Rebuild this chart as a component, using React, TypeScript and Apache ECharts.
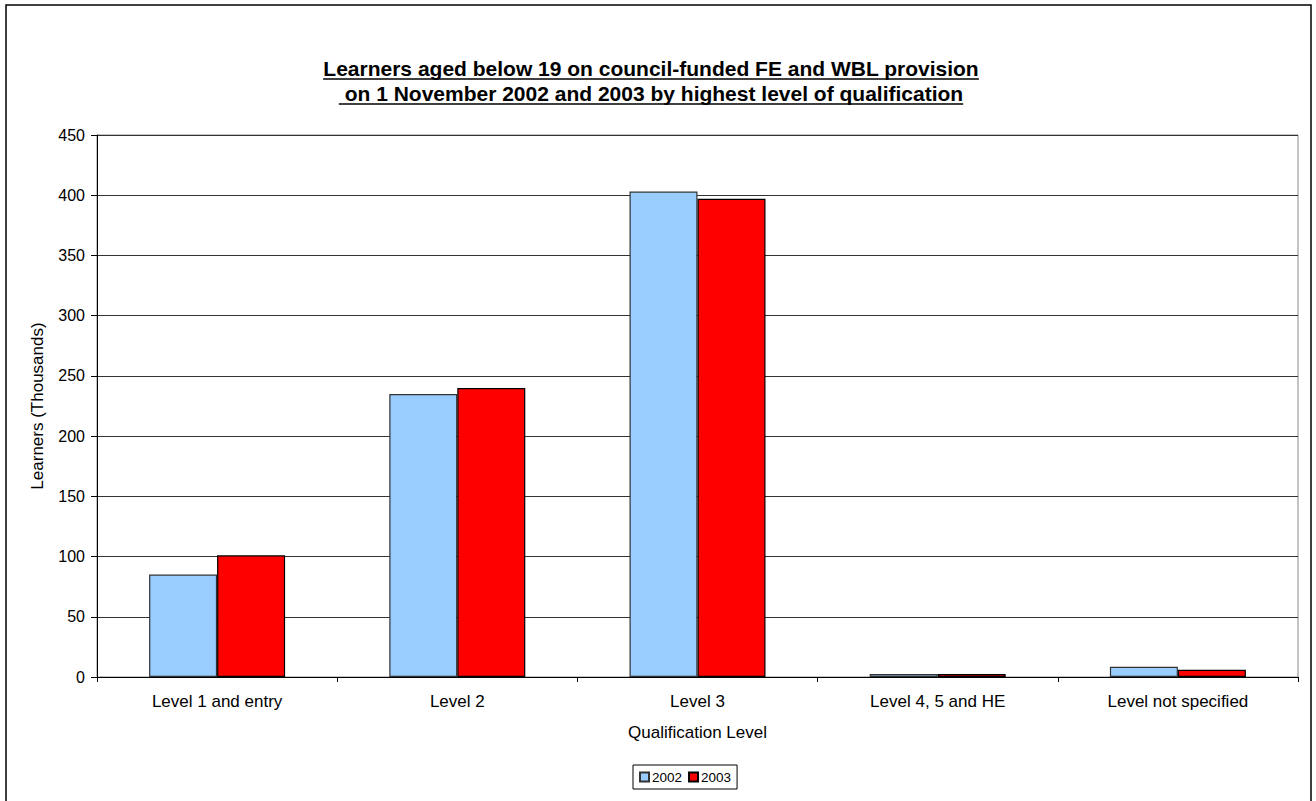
import React, { useEffect, useRef } from "react";
import * as echarts from "echarts";

const categories = ["Level 1 and entry", "Level 2", "Level 3", "Level 4, 5 and HE", "Level not specified"];
const values2002 = [85, 235, 403, 2.5, 8.5];
const values2003 = [101, 240, 397, 2.5, 6];
const seriesNames = ["2002", "2003"];
const titleLines = [
  "Learners aged below 19 on council-funded FE and WBL provision",
  " on 1 November 2002 and 2003 by highest level of qualification",
];
const yTicks = { min: 0, max: 450, interval: 50 };

const FONT = "Liberation Sans, Arial, sans-serif";

function measure(text: string, font: string): number {
  const c = document.createElement("canvas").getContext("2d");
  if (!c) return text.length * 10;
  c.font = font;
  return c.measureText(text).width;
}

export default function App() {
  const ref = useRef<HTMLDivElement>(null);
  useEffect(() => {
    if (!ref.current) return;
    const chart = echarts.init(ref.current, undefined, { renderer: "svg" });
    const titleFont = "bold 21px " + FONT;
    const cx = 651;
    const lineYs = [68, 93];
    const graphics: any[] = [
      {
        type: "rect",
        shape: { x: 6, y: 5, width: 1305, height: 820 },
        style: { fill: "none", stroke: "#000", lineWidth: 1.5 },
        silent: true,
      },
    ];
    titleLines.forEach((t, i) => {
      const w = measure(t, titleFont);
      graphics.push({
        type: "text",
        x: cx,
        y: lineYs[i],
        style: {
          text: t,
          font: titleFont,
          fill: "#000",
          align: "center",
          verticalAlign: "middle",
        },
      });
      graphics.push({
        type: "line",
        shape: { x1: cx - w / 2, y1: lineYs[i] + 11, x2: cx + w / 2, y2: lineYs[i] + 11 },
        style: { stroke: "#000", lineWidth: 1.3 },
      });
    });
    chart.setOption({
      animation: false,
      textStyle: { fontFamily: FONT },
      graphic: graphics,
      grid: { left: 97, right: 18, top: 135, bottom: 124, show: true, borderColor: "#888", borderWidth: 1, backgroundColor: "transparent" },
      legend: {
        data: seriesNames,
        left: 633,
        top: 765,
        orient: "horizontal",
        borderColor: "#000",
        borderWidth: 1,
        padding: [5, 6],
        itemWidth: 9,
        itemHeight: 9,
        itemGap: 6,
        icon: "rect",
        textStyle: { fontSize: 13.5, color: "#000", padding: [0, 0, 0, -2] },
      },
      xAxis: {
        type: "category",
        data: categories,
        name: "Qualification Level",
        nameLocation: "middle",
        nameGap: 47,
        nameTextStyle: { fontSize: 17, color: "#000" },
        axisLine: { lineStyle: { color: "#000", width: 1 } },
        axisTick: { show: true, alignWithLabel: false, length: 5, lineStyle: { color: "#000" } },
        axisLabel: { fontSize: 17, color: "#000", margin: 16, interval: 0 },
      },
      yAxis: {
        type: "value",
        min: yTicks.min,
        max: yTicks.max,
        interval: yTicks.interval,
        name: "Learners (Thousands)",
        nameLocation: "middle",
        nameGap: 51,
        nameTextStyle: { fontSize: 17, color: "#000" },
        axisLine: { show: true, lineStyle: { color: "#000", width: 1 } },
        axisTick: { show: true, length: 6, lineStyle: { color: "#000" } },
        axisLabel: { fontSize: 16, color: "#000", margin: 12 },
        splitLine: { show: true, lineStyle: { color: "#333", width: 1 } },
      },
      series: [
        {
          name: seriesNames[0],
          type: "bar",
          data: values2002,
          barWidth: 68,
          barGap: "0%",
          itemStyle: { color: "#99CCFF", borderColor: "#333", borderWidth: 1.2 },
        },
        {
          name: seriesNames[1],
          type: "bar",
          data: values2003,
          barWidth: 68,
          barGap: "0%",
          itemStyle: { color: "#FF0000", borderColor: "#000", borderWidth: 1.2 },
        },
      ],
    });
    return () => chart.dispose();
  }, []);
  return (
    <div
      ref={ref}
      style={{ position: "fixed", left: 0, top: 0, width: 1316, height: 801, background: "#fff" }}
    />
  );
}
